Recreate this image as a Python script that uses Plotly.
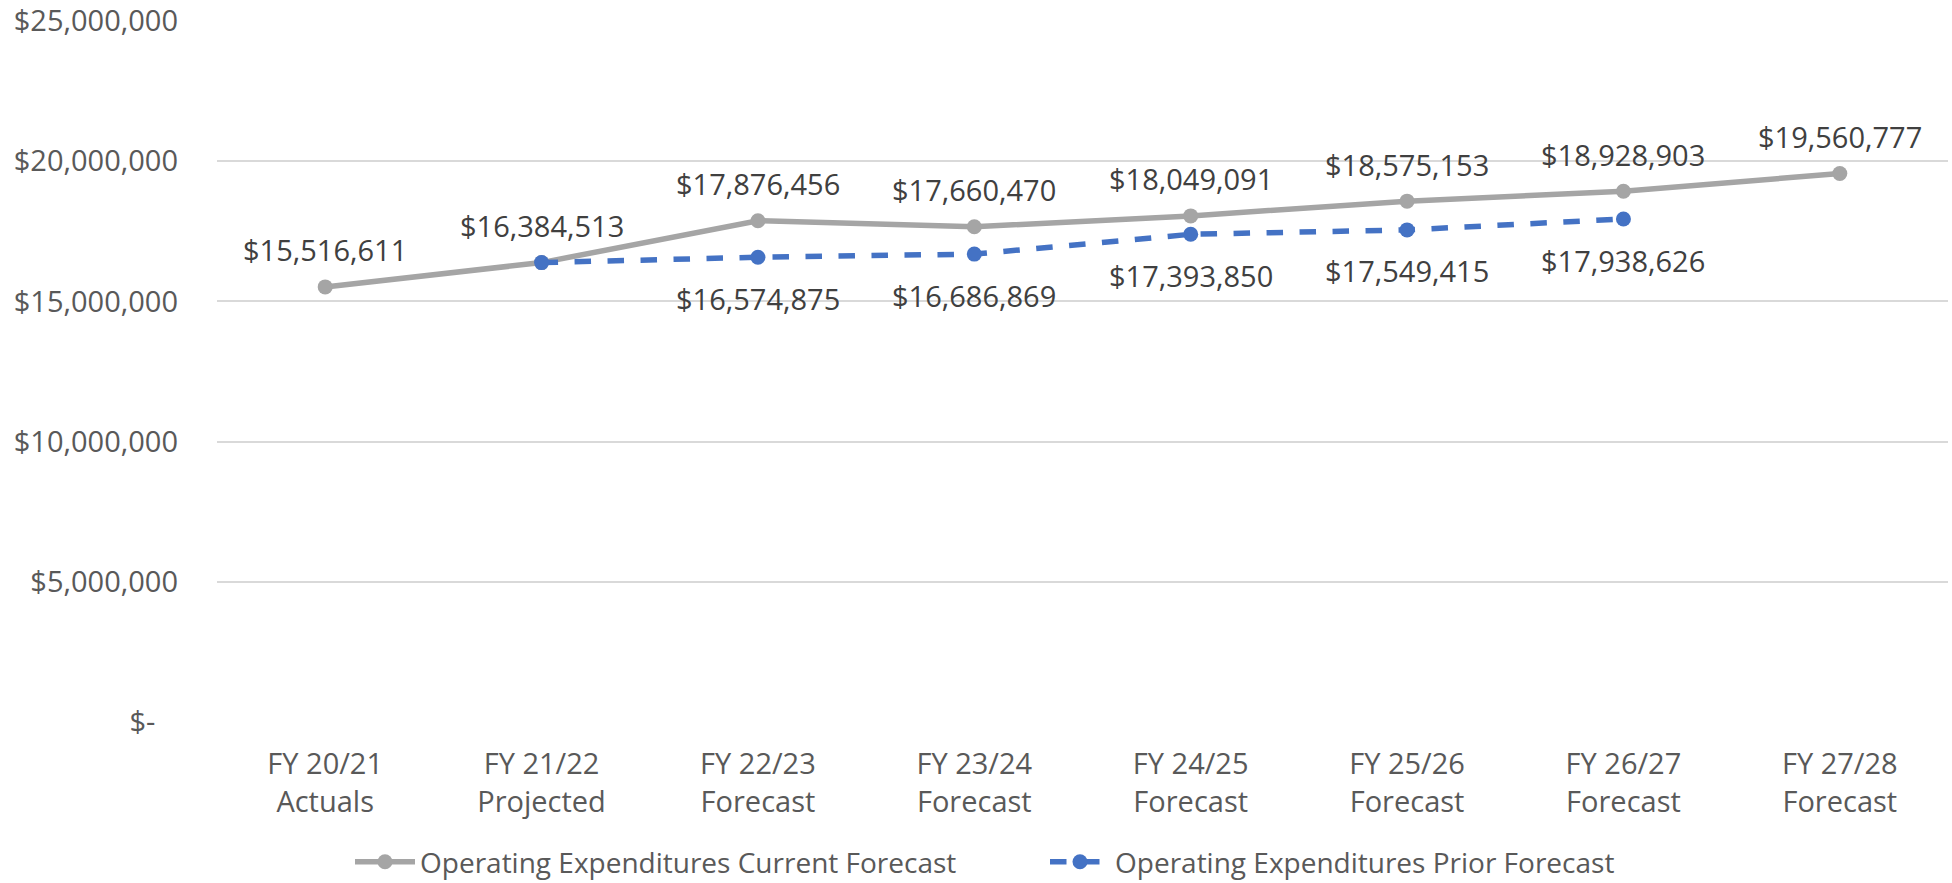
import plotly.graph_objects as go

categories = ["FY 20/21<br>Actuals", "FY 21/22<br>Projected", "FY 22/23<br>Forecast",
              "FY 23/24<br>Forecast", "FY 24/25<br>Forecast", "FY 25/26<br>Forecast",
              "FY 26/27<br>Forecast", "FY 27/28<br>Forecast"]
current_forecast = [15516611, 16384513, 17876456, 17660470, 18049091, 18575153, 18928903, 19560777]
prior_forecast = [None, 16384513, 16574875, 16686869, 17393850, 17549415, 17938626, None]
prior_label_shown = [False, False, True, True, True, True, True, False]
ytick_vals = [0, 5000000, 10000000, 15000000, 20000000, 25000000]
ytick_text = ["$-\u00a0\u00a0\u00a0", "$5,000,000", "$10,000,000", "$15,000,000", "$20,000,000", "$25,000,000"]

FONT = "Open Sans"
FS = 29

def fmt(v):
    return "${:,.0f}".format(v)

fig = go.Figure()
fig.add_trace(go.Scatter(
    x=categories, y=current_forecast, mode="lines+markers",
    name="Operating Expenditures Current Forecast",
    line=dict(color="#a5a5a5", width=5.5),
    marker=dict(color="#a5a5a5", size=15),
    cliponaxis=False,
))
fig.add_trace(go.Scatter(
    x=categories, y=prior_forecast, mode="lines+markers",
    name="Operating Expenditures Prior Forecast",
    line=dict(color="#4472c4", width=5.5, dash="dash"),
    marker=dict(color="#4472c4", size=15),
    cliponaxis=False,
))

annotations = []
for c, v in zip(categories, current_forecast):
    annotations.append(dict(x=c, y=v, text=fmt(v), showarrow=False, yshift=37,
                            font=dict(family=FONT, size=FS, color="#404040")))
for c, v, show in zip(categories, prior_forecast, prior_label_shown):
    if v is not None and show:
        annotations.append(dict(x=c, y=v, text=fmt(v), showarrow=False, yshift=-41,
                                font=dict(family=FONT, size=FS, color="#404040")))

fig.update_layout(
    width=1952, height=883,
    margin=dict(l=217, r=4, t=21, b=161, autoexpand=False),
    paper_bgcolor="white", plot_bgcolor="white",
    font=dict(family=FONT, size=FS, color="#595959"),
    showlegend=True,
    annotations=annotations,
    legend=dict(orientation="h", xref="container", yref="container",
                x=350 / 1952, xanchor="left", y=(883 - 862) / 883, yanchor="middle",
                font=dict(family=FONT, size=28, color="#595959"),
                itemwidth=60, entrywidth=620, traceorder="normal"),
    xaxis=dict(type="category", range=[-0.5, 7.5], showgrid=False, showline=False,
               zeroline=False, ticks="", tickfont=dict(family=FONT, size=FS, color="#595959"),
               ticklabelstandoff=22),
    yaxis=dict(range=[0, 25000000], tickvals=ytick_vals, ticktext=ytick_text,
               showgrid=True, gridcolor="#d9d9d9", gridwidth=1.5, zeroline=False,
               showline=False, ticks="", tickfont=dict(family=FONT, size=FS, color="#595959"),
               ticklabelstandoff=38),
)
fig.write_html("out.html", config={"displayModeBar": False},
               post_script="document.body.style.margin='0';document.body.style.overflow='hidden';")
